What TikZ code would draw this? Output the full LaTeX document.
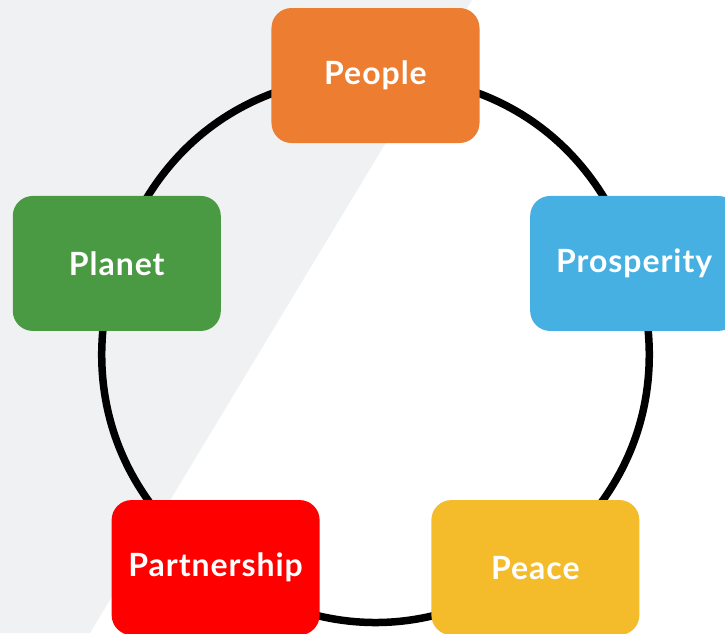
\documentclass[tikz,border=0pt]{standalone}
\usepackage{fontspec}
\setmainfont{Lato}[LetterSpace=3]
\definecolor{peopleorange}{HTML}{ED7D31}
\definecolor{prosperityblue}{HTML}{45B0E1}
\definecolor{planetgreen}{HTML}{4A9A43}
\definecolor{partnershipred}{HTML}{FF0000}
\definecolor{peaceyellow}{HTML}{F4BC2B}
\definecolor{shadegray}{HTML}{F0F1F3}
\pgfdeclarelayer{shade}
\pgfdeclarelayer{ring}
\pgfsetlayers{shade,ring,main}
\tikzset{
 goal/.style={
  % one coloured box on the ring
  rectangle, rounded corners=20pt, fill=#1, text=white,
  minimum width=208pt, minimum height=135pt,
  font=\fontsize{32}{38}\selectfont\bfseries
 },
 ringline/.style={line width=7.5pt, black}
}

\begin{document}
\begin{tikzpicture}
 \clip (-375.5pt, -285.5pt) rectangle (349.5pt, 347.5pt);

 \node [goal=peopleorange] (people) at (90:272pt) {People};
 \node [goal=prosperityblue] (prosperity) at (18:272pt) {Prosperity};
 \node [goal=peaceyellow] (peace) at (-54:272pt) {Peace};
 \node [goal=partnershipred] (partnership) at (234:272pt) {Partnership};
 \node [goal=planetgreen] (planet) at (162:272pt) {Planet};

 \begin{pgfonlayer}{shade}
  \fill [shadegray] (-375.5pt, 347.5pt) -- (96.5pt, 347.5pt)
   -- (-285.5pt, -285.5pt) -- (-375.5pt, -285.5pt) -- cycle;
 \end{pgfonlayer}

 \begin{pgfonlayer}{ring}
  \draw [ringline] (people.center) to [bend left=36] (prosperity.center)
   to [bend left=36] (peace.center)
   to [bend left=36] (partnership.center)
   to [bend left=36] (planet.center)
   to [bend left=36] (people.center);
 \end{pgfonlayer}
\end{tikzpicture}
\end{document}
